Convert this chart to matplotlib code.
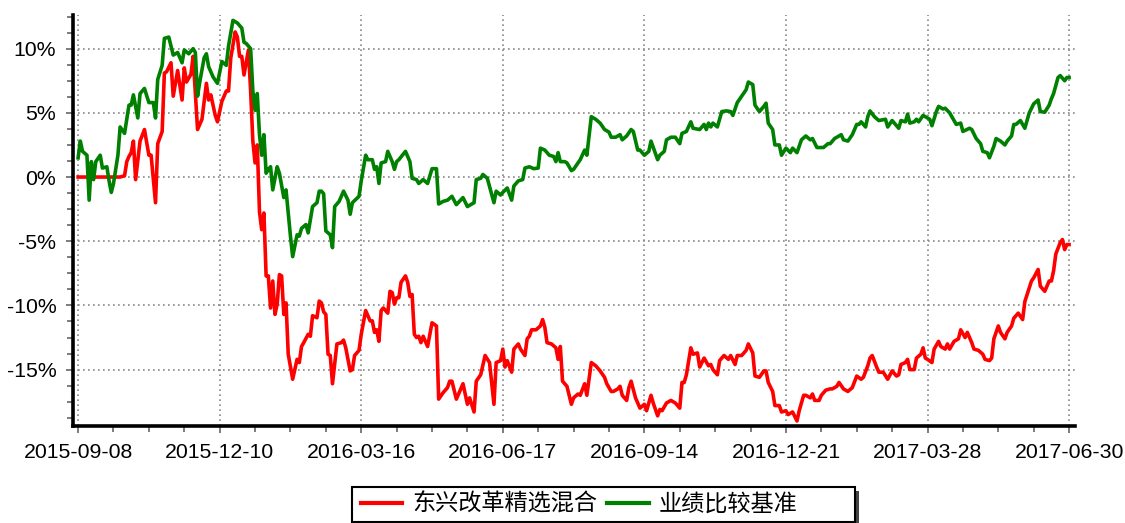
import numpy as np
import matplotlib
matplotlib.use("Agg")
import matplotlib.pyplot as plt
from matplotlib.patches import Rectangle
from matplotlib.ticker import FixedLocator, FuncFormatter, MultipleLocator

plt.rcParams['font.family'] = ['Liberation Sans', 'Noto Sans CJK SC', 'DejaVu Sans']

# ---------------------------------
# data (trading-day index, cumulative return %)
# ---------------------------------
tick_days = [0, 64, 128, 192, 256, 320, 384, 448]
tick_labels = ["2015-09-08", "2015-12-10", "2016-03-16", "2016-06-17",
               "2016-09-14", "2016-12-21", "2017-03-28", "2017-06-30"]

fund_name = "东兴改革精选混合"
bench_name = "业绩比较基准"

fund_day = [0, 19, 21, 22, 23, 24, 25, 26, 28, 30, 32, 33, 35, 36, 38, 39, 40, 42, 43, 45,
            47, 48, 49, 51, 52, 53, 54, 56, 57, 58, 59, 60, 62, 63, 65, 67, 68, 69, 71, 72,
            73, 74, 75, 77, 78, 79, 80, 81, 82, 83, 84, 85, 86, 87, 88, 89, 90, 91, 92, 93,
            94, 95, 97, 99, 100, 101, 102, 104, 105, 106, 108, 109, 110, 111, 112, 113, 114, 115, 117, 119,
            120, 121, 123, 124, 125, 127, 128, 130, 132, 133, 134, 135, 136, 137, 138, 140, 141, 142, 143, 144,
            145, 146, 148, 149, 150, 151, 152, 153, 154, 155, 156, 158, 160, 162, 163, 165, 167, 168, 169, 171,
            172, 174, 176, 177, 179, 180, 182, 184, 186, 188, 189, 191, 192, 193, 194, 196, 197, 199, 200, 202,
            203, 204, 205, 207, 209, 210, 211, 212, 214, 216, 217, 218, 219, 221, 223, 224, 226, 227, 229, 230,
            232, 234, 236, 238, 239, 241, 242, 244, 245, 246, 248, 249, 250, 252, 254, 256, 257, 259, 260, 262,
            263, 264, 266, 268, 270, 272, 273, 274, 275, 277, 278, 280, 281, 283, 285, 286, 287, 289, 290, 292,
            294, 295, 297, 298, 300, 302, 303, 305, 306, 308, 310, 311, 312, 314, 315, 317, 318, 320, 321, 323,
            325, 326, 328, 329, 331, 332, 333, 335, 336, 338, 340, 341, 343, 344, 346, 348, 350, 352, 354, 355,
            357, 358, 359, 361, 362, 364, 366, 368, 370, 371, 372, 374, 375, 376, 378, 379, 381, 382, 383, 384,
            386, 387, 389, 390, 392, 393, 394, 396, 398, 399, 401, 402, 404, 405, 407, 409, 410, 412, 413, 414,
            416, 417, 419, 420, 422, 423, 424, 425, 427, 428, 431, 432, 434, 435, 437, 439, 440, 441, 442, 444,
            445, 446, 447, 448]
fund_ret = [0.0, 0.0, 0.1, 1.2, 1.6, 1.9, 2.8, -0.2, 2.8, 3.7, 1.7, 1.7, -2.0, 2.6, 3.55, 8.1, 8.2, 8.9, 6.3, 8.3,
            6.0, 8.5, 7.4, 8.0, 9.4, 6.5, 3.7, 4.5, 5.9, 7.3, 6.0, 6.4, 4.8, 4.3, 5.9, 6.7, 6.7, 9.25, 11.3, 10.9,
            9.4, 9.4, 7.95, 9.9, 6.7, 2.8, 1.1, 2.5, -2.7, -4.1, -2.8, -7.7, -7.7, -10.2, -8.1, -10.7, -9.9, -7.6, -7.7, -10.7,
            -9.8, -13.8, -15.75, -14.2, -14.45, -13.2, -12.9, -12.25, -12.4, -10.8, -10.96, -9.66, -9.8, -10.5, -10.7, -13.8, -13.9, -16.1, -13.0, -12.9,
            -12.7, -13.3, -15.1, -15.0, -13.9, -13.5, -12.25, -10.4, -11.2, -11.2, -12.1, -11.9, -12.8, -10.4, -10.2, -10.6, -8.9, -9.0, -9.9, -9.4,
            -9.4, -8.2, -7.7, -8.2, -9.3, -9.15, -12.25, -12.5, -12.4, -12.9, -12.4, -13.2, -11.35, -11.6, -17.3, -16.8, -16.4, -15.9, -15.9, -17.3,
            -16.9, -16.1, -17.7, -17.2, -18.3, -15.9, -15.4, -13.9, -14.45, -17.7, -14.45, -14.3, -13.4, -14.8, -14.3, -15.2, -13.4, -13.0, -13.4, -13.9,
            -12.6, -12.4, -11.9, -11.9, -11.6, -11.1, -11.7, -12.9, -13.0, -13.3, -14.2, -13.2, -15.9, -16.3, -17.7, -17.2, -16.9, -17.0, -16.1, -17.0,
            -14.45, -14.7, -15.1, -15.6, -16.1, -16.7, -16.7, -16.5, -16.3, -17.0, -17.4, -16.4, -15.9, -17.2, -18.0, -17.7, -18.2, -17.0, -17.6, -18.6,
            -18.1, -18.2, -17.6, -17.4, -17.6, -18.0, -16.0, -16.0, -15.4, -13.3, -13.8, -13.7, -14.8, -14.1, -14.7, -14.6, -15.0, -15.4, -14.3, -13.9,
            -14.2, -13.9, -14.6, -13.9, -13.9, -13.5, -13.0, -13.7, -15.5, -15.6, -15.1, -15.1, -16.0, -16.7, -17.8, -17.8, -18.3, -18.2, -18.5, -18.3,
            -19.0, -18.2, -17.0, -17.0, -17.2, -16.9, -17.4, -17.4, -17.0, -16.6, -16.5, -16.5, -16.3, -16.0, -16.5, -16.7, -16.4, -15.5, -15.75, -15.6,
            -14.7, -14.1, -13.9, -14.8, -15.2, -15.2, -15.75, -15.1, -15.5, -15.4, -14.6, -14.45, -14.2, -15.0, -15.0, -14.1, -13.8, -13.3, -14.1, -14.2,
            -14.45, -13.4, -12.8, -13.2, -13.4, -13.0, -13.4, -12.8, -12.6, -11.9, -12.5, -12.1, -12.9, -13.4, -13.5, -13.8, -14.2, -14.3, -14.1, -12.6,
            -11.6, -12.1, -12.6, -12.1, -11.6, -11.0, -10.8, -10.6, -11.1, -9.7, -8.1, -7.85, -7.2, -8.5, -8.9, -8.1, -8.1, -7.3, -6.0, -5.1,
            -4.87, -5.65, -5.26, -5.26]

bench_day = [0, 1, 2, 4, 5, 6, 7, 8, 10, 11, 13, 14, 15, 16, 18, 19, 21, 23, 24, 25,
             27, 28, 30, 32, 34, 35, 36, 38, 39, 41, 43, 45, 47, 48, 50, 52, 53, 54, 55, 57,
             58, 59, 61, 63, 65, 67, 68, 70, 72, 74, 75, 76, 78, 79, 80, 81, 82, 83, 84, 85,
             86, 87, 88, 90, 91, 93, 94, 96, 97, 99, 100, 101, 103, 104, 106, 108, 109, 110, 111, 112,
             114, 115, 116, 118, 120, 122, 123, 124, 127, 128, 130, 131, 133, 134, 135, 136, 137, 139, 140, 142,
             143, 144, 145, 148, 150, 151, 153, 154, 156, 158, 160, 162, 163, 165, 167, 169, 171, 174, 176, 179,
             180, 182, 183, 185, 188, 189, 191, 192, 194, 196, 197, 199, 201, 202, 204, 206, 208, 209, 211, 213,
             215, 216, 217, 218, 220, 221, 223, 224, 227, 229, 230, 232, 234, 236, 238, 240, 241, 243, 245, 246,
             248, 250, 251, 253, 254, 256, 258, 259, 262, 263, 265, 266, 268, 270, 272, 273, 275, 277, 278, 281,
             283, 284, 285, 286, 287, 289, 291, 293, 295, 296, 298, 300, 302, 303, 305, 306, 308, 310, 311, 312,
             314, 315, 317, 318, 320, 322, 323, 325, 327, 329, 331, 332, 334, 337, 339, 340, 342, 344, 345, 346,
             348, 350, 352, 353, 354, 356, 357, 358, 360, 362, 365, 366, 368, 369, 371, 372, 374, 375, 376, 378,
             379, 380, 382, 383, 385, 386, 388, 389, 391, 392, 394, 395, 397, 399, 400, 403, 404, 406, 408, 409,
             411, 412, 414, 415, 417, 419, 420, 422, 423, 424, 426, 428, 430, 432, 434, 435, 437, 439, 440, 441,
             443, 444, 446, 447, 448]
bench_ret = [1.5, 2.8, 2.0, 1.7, -1.8, 1.2, -0.2, 1.2, 1.7, 0.7, 0.8, -0.3, -1.2, -0.5, 1.7, 3.9, 3.4, 5.6, 5.6, 6.4,
             4.6, 6.5, 6.9, 5.8, 5.8, 4.6, 7.6, 8.7, 10.8, 10.9, 9.5, 9.7, 8.9, 9.9, 9.6, 10.0, 9.7, 6.3, 7.4, 9.3,
             9.6, 8.6, 7.8, 7.3, 9.0, 8.7, 10.2, 12.2, 12.0, 11.6, 10.5, 10.4, 10.0, 6.7, 5.2, 6.5, 3.3, 1.7, 3.3, 0.3,
             0.6, 0.8, -1.0, 0.8, 0.3, -1.6, -1.0, -4.6, -6.2, -4.5, -4.6, -4.0, -3.7, -4.35, -2.3, -2.0, -1.1, -1.1, -1.3, -4.2,
             -4.5, -5.5, -2.3, -1.9, -1.1, -1.8, -2.9, -2.0, -1.5, -0.3, 1.7, 1.35, 1.35, 0.6, 0.8, -0.5, 1.1, 1.2, 2.0, 1.2,
             0.6, 1.2, 1.35, 2.0, 1.2, -0.1, -0.2, -0.5, -0.2, -0.5, 0.65, 0.65, -2.1, -1.9, -1.8, -1.5, -2.15, -1.6, -2.3, -2.0,
             -0.2, -0.1, 0.2, -0.1, -2.0, -1.1, -1.4, -1.2, -0.85, -1.8, -0.7, -0.3, -0.2, 0.7, 0.8, 0.65, 0.7, 2.25, 2.1, 1.7,
             1.6, 1.2, 1.9, 1.2, 1.2, 1.1, 0.5, 0.6, 1.35, 2.1, 1.7, 4.7, 4.5, 4.2, 3.7, 3.5, 3.1, 3.1, 3.3, 2.9,
             3.2, 3.7, 3.55, 2.1, 2.1, 1.7, 2.0, 2.8, 1.35, 1.7, 2.0, 2.9, 3.1, 3.1, 2.6, 3.4, 3.55, 4.3, 3.8, 3.7,
             4.1, 3.7, 4.2, 3.9, 4.2, 3.9, 5.1, 5.15, 5.1, 4.8, 5.8, 6.3, 6.8, 7.4, 7.2, 5.6, 5.1, 5.5, 5.75, 4.2,
             3.7, 2.5, 2.5, 1.7, 2.25, 1.9, 2.25, 1.9, 2.9, 3.2, 2.9, 3.0, 2.3, 2.3, 2.6, 2.6, 3.0, 3.2, 3.3, 2.9,
             2.8, 3.3, 4.1, 4.1, 4.3, 3.9, 4.7, 5.15, 4.7, 4.4, 4.5, 3.9, 4.4, 4.2, 3.8, 4.4, 4.3, 4.9, 4.2, 4.3,
             4.5, 4.3, 4.8, 4.7, 4.5, 4.0, 5.1, 5.5, 5.3, 5.36, 5.0, 4.7, 4.1, 4.2, 3.55, 3.8, 3.7, 3.0, 2.6, 2.0,
             1.9, 1.5, 2.4, 3.0, 2.8, 2.5, 2.8, 3.2, 4.1, 4.1, 4.4, 3.8, 5.0, 5.7, 6.0, 5.1, 5.05, 5.6, 6.1, 6.5,
             7.75, 7.9, 7.5, 7.75, 7.75]

# ---------------------------------
# figure
# ---------------------------------
W, H = 1125, 523
fig = plt.figure(figsize=(W / 100, H / 100), dpi=100)
ax = fig.add_axes([0.0649, 0.1855, 0.8907, 0.7858])

ax.plot(fund_day, fund_ret, color="#ff0000", lw=2.6, label=fund_name, zorder=3)
ax.plot(bench_day, bench_ret, color="#008000", lw=2.6, label=bench_name, zorder=4)

ax.set_xlim(-2.3, 450.7)
ax.set_ylim(-19.39, 12.62)

ax.xaxis.set_major_locator(FixedLocator(tick_days))
ax.set_xticklabels(tick_labels)
ax.xaxis.set_minor_locator(MultipleLocator(16))
ax.yaxis.set_major_locator(FixedLocator([-15, -10, -5, 0, 5, 10]))
ax.yaxis.set_minor_locator(MultipleLocator(1.25))
ax.yaxis.set_major_formatter(FuncFormatter(lambda v, p: f"{v:.0f}%"))

ax.grid(True, which="major", color="#888888", linestyle=(0, (1, 2)), linewidth=1.2)

for s in ["top", "right"]:
    ax.spines[s].set_visible(False)
for s in ["left", "bottom"]:
    ax.spines[s].set_linewidth(2.6)
    ax.spines[s].set_color("black")

ax.tick_params(axis="both", which="both", direction="out", colors="#666666",
               labelcolor="black", labelsize=15.3, width=1.2)
ax.tick_params(axis="both", which="major", length=5, pad=7)
ax.tick_params(axis="both", which="minor", length=4)

# legend box drawn by hand (it is wider than its entries)
box_x0, box_y0, box_x1, box_y1 = 352, 1, 855, 36
fig.patches.append(Rectangle(((box_x0 + 4) / W, (box_y0 - 4) / H), (box_x1 - box_x0) / W,
                             (box_y1 - box_y0) / H, transform=fig.transFigure,
                             facecolor="#444444", edgecolor="none", zorder=1))
fig.patches.append(Rectangle((box_x0 / W, box_y0 / H), (box_x1 - box_x0) / W,
                             (box_y1 - box_y0) / H, transform=fig.transFigure,
                             facecolor="white", edgecolor="black", linewidth=1.5, zorder=2))

leg = fig.legend(loc="center left", bbox_to_anchor=(361 / W, 18.5 / H), ncol=2,
                 frameon=False, handlelength=1.78, handletextpad=0.43,
                 columnspacing=0.43, borderpad=0, borderaxespad=0,
                 prop={"family": ["Noto Sans CJK SC", "DejaVu Sans"], "size": 16.7})
leg.set_zorder(3)
for h in leg.get_lines():
    h.set_linewidth(3)

fig.savefig("out.png", dpi=100)
